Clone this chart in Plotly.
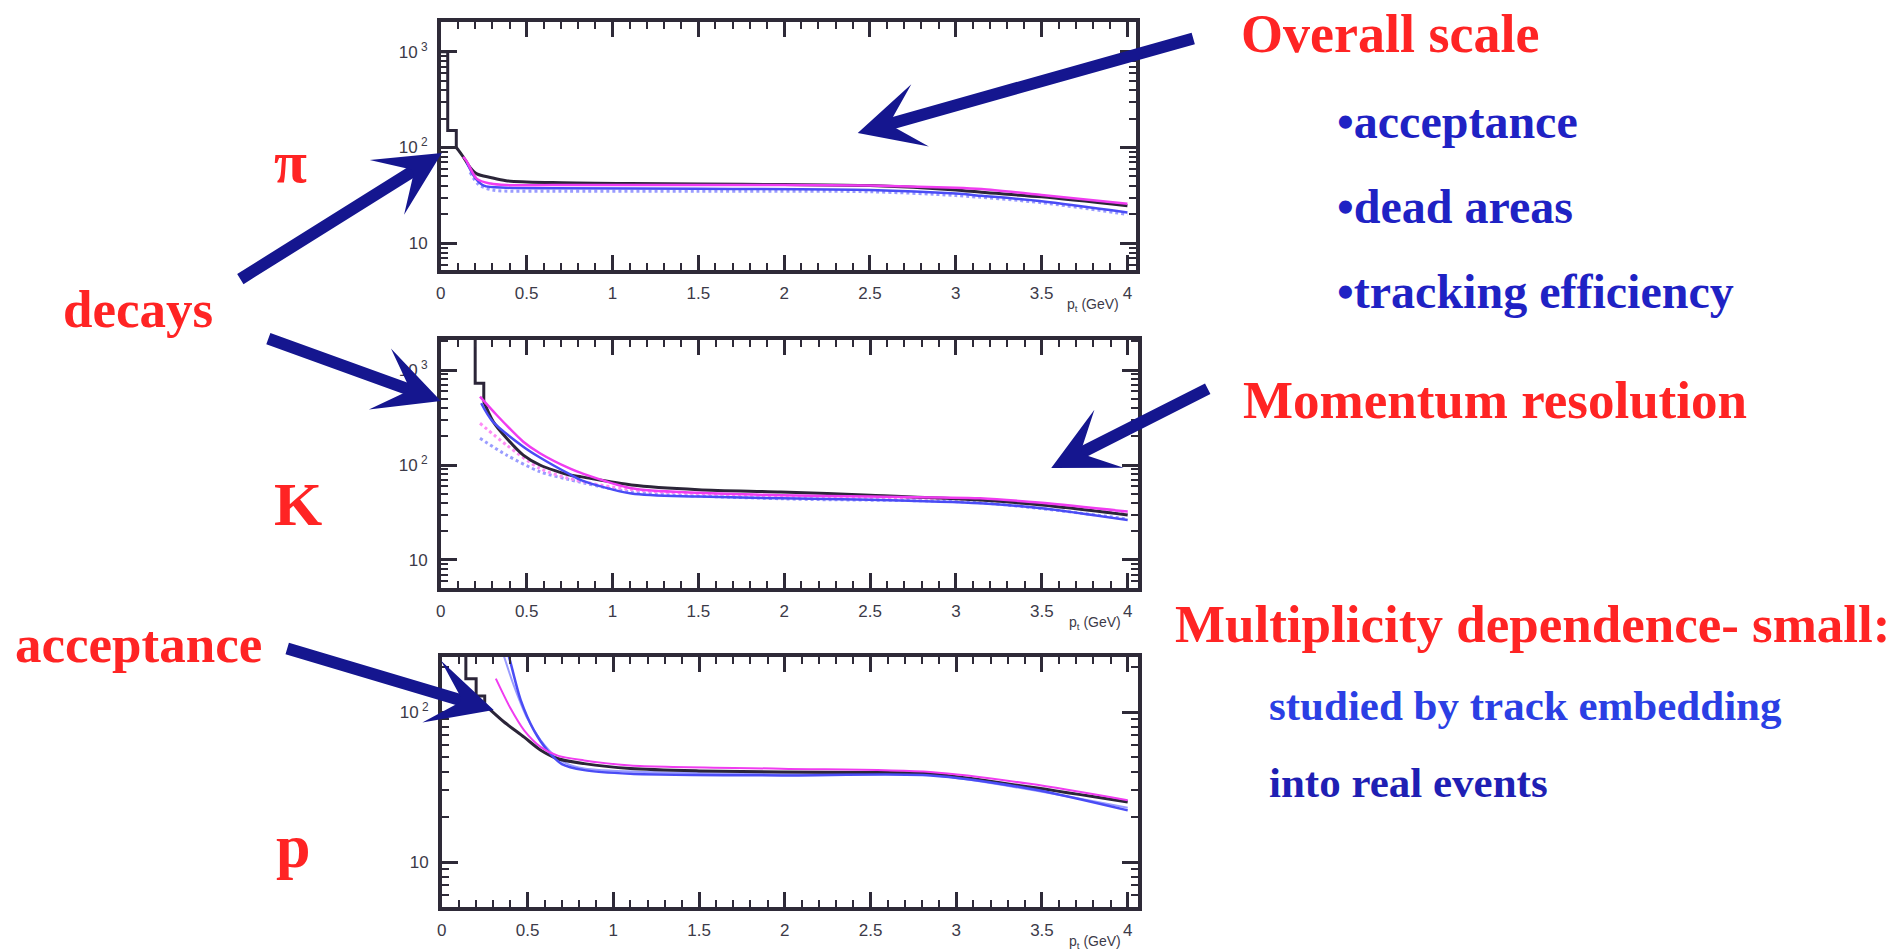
import plotly.graph_objects as go

W, H = 1893, 952

# ---------------- axis ticks ----------------
pt_ticks = [0, 0.5, 1, 1.5, 2, 2.5, 3, 3.5, 4]
pt_tick_text = ["0", "0.5", "1", "1.5", "2", "2.5", "3", "3.5", "4"]
y_major = [10, 100, 1000]
y_major_text = ["10", "10<sup> 2</sup>", "10<sup> 3</sup>"]
y_minor = [m * d for d in (1, 10, 100, 1000) for m in range(2, 10)]

# ---------------- pi panel ----------------
pi_hist_edges = [0.0, 0.04, 0.09]
pi_hist_vals = [1000, 150, 100]
pi_data_pt = [0.09, 0.10, 0.13, 0.17, 0.21, 0.29, 0.38, 0.65, 1.1, 1.5, 2.0, 2.5, 3.0, 3.15, 3.5, 4.0]
pi_data_y = [100, 95, 80, 62, 53, 48.6, 45, 43, 42, 41.5, 41, 40, 36, 34, 30.5, 24.6]
pi_sim1_pt = [0.13, 0.15, 0.21, 0.29, 0.38, 0.65, 1.1, 1.5, 2.0, 2.5, 3.0, 3.15, 3.5, 4.0]
pi_sim1_y = [80, 72, 47, 42, 40.5, 40.5, 40.5, 40.5, 40.5, 40, 38, 36.8, 32, 25.8]
pi_sim2_pt = [0.15, 0.2, 0.25, 0.38, 0.65, 1.5, 2.5, 3.0, 3.15, 3.5, 4.0]
pi_sim2_y = [70, 48, 40, 38, 37.5, 37, 36, 33, 31.3, 27.5, 21]
pi_sim3_pt = [0.17, 0.22, 0.3, 0.65, 1.5, 2.5, 3.0, 3.5, 4.0]
pi_sim3_y = [55, 41, 36, 35, 35, 34.5, 31.5, 26.5, 20]

# ---------------- K panel ----------------
k_hist_edges = [0.15, 0.20, 0.25]
k_hist_vals = [5000, 725, 464]
k_data_pt = [0.25, 0.305, 0.383, 0.48, 0.577, 0.75, 0.82, 1.11, 1.5, 1.98, 2.5, 3.14, 3.5, 4.0]
k_data_y = [464, 286, 191, 127, 100, 78.5, 75, 61.6, 55, 52, 48, 42.7, 38, 29.8]
k_sim1_pt = [0.228, 0.325, 0.48, 0.577, 0.75, 0.82, 1.11, 1.5, 1.98, 2.5, 3.14, 3.5, 4.0]
k_sim1_y = [524, 336, 176, 133, 92, 82, 57, 51, 48, 46.5, 44.6, 40, 32.3]
k_sim2_pt = [0.235, 0.3, 0.48, 0.577, 0.75, 0.82, 1.11, 1.5, 1.98, 2.5, 3.14, 3.5, 4.0]
k_sim2_y = [447, 290, 156, 120, 80, 69, 50, 46.5, 44.6, 43, 39.5, 35, 26.3]
k_sim3_pt = [0.228, 0.383, 0.577, 0.75, 1.11, 2.0, 3.14, 4.0]
k_sim3_y = [275, 162, 92, 72, 55, 47, 43, 31]
k_sim4_pt = [0.228, 0.383, 0.577, 0.75, 1.11, 2.0, 3.14, 4.0]
k_sim4_y = [191, 127, 85, 70, 52, 44, 40, 27]

# ---------------- p panel ----------------
p_hist_edges = [0.10, 0.14, 0.20, 0.25]
p_hist_vals = [400, 167, 128, 112]
p_data_pt = [0.25, 0.286, 0.363, 0.48, 0.577, 0.673, 0.83, 1.1, 1.5, 1.98, 2.5, 2.85, 3.43, 4.0]
p_data_y = [112, 102.6, 85.8, 68, 55.6, 49, 45.3, 42, 40.5, 39.8, 39.5, 38.8, 31.6, 25.1]
p_sim1_pt = [0.315, 0.402, 0.48, 0.577, 0.68, 0.83, 1.1, 1.98, 2.85, 3.43, 4.0]
p_sim1_y = [167, 105, 75.5, 58.4, 51, 47.6, 44, 41.9, 39.8, 33.2, 25.8]
p_sim2_pt = [0.38, 0.40, 0.46, 0.537, 0.615, 0.70, 0.83, 1.1, 1.98, 2.85, 3.43, 4.0]
p_sim2_y = [260, 215, 120, 75.5, 55.6, 45, 41, 38.8, 37.8, 37.8, 30.8, 22.1]
p_sim3_pt = [0.36, 0.42, 0.50, 0.60, 0.70, 0.83, 1.98, 2.85, 4.0]
p_sim3_y = [240, 150, 90, 60, 47, 42, 38.5, 38, 23]

# ---------------- styles ----------------
C_DATA = "#2b2538"
C_MAG = "#f03cf0"
C_BLUE = "#4a4cf5"
C_LAV = "#9a9cff"
C_PINK = "#ff8cf5"
C_RED = "#ff2424"
C_NAVY = "#15168f"
SERIF = "Liberation Serif, Times New Roman, serif"
SANS = "Liberation Sans, Arial, sans-serif"


def px_x(v):
    return v / W


def px_y(v):
    return 1 - v / H


panels = [
    dict(left=437, right=1134, top=22, bottom=270, yrange=[0.721, 3.31], xrange=[0, 4.05],
         hist=(pi_hist_edges, pi_hist_vals),
         curves=[(pi_data_pt, pi_data_y, C_DATA, "solid", 3),
                 (pi_sim3_pt, pi_sim3_y, C_LAV, "dot", 3),
                 (pi_sim2_pt, pi_sim2_y, C_BLUE, "solid", 2.5),
                 (pi_sim1_pt, pi_sim1_y, C_MAG, "solid", 2.5)]),
    dict(left=437, right=1136, top=340, bottom=588, yrange=[0.705, 3.316], xrange=[0, 4.06],
         hist=(k_hist_edges, k_hist_vals),
         curves=[(k_sim4_pt, k_sim4_y, C_LAV, "dot", 3),
                 (k_sim3_pt, k_sim3_y, C_PINK, "dot", 3),
                 (k_data_pt, k_data_y, C_DATA, "solid", 3),
                 (k_sim2_pt, k_sim2_y, C_BLUE, "solid", 2.5),
                 (k_sim1_pt, k_sim1_y, C_MAG, "solid", 2.5)]),
    dict(left=438, right=1136, top=657, bottom=907, yrange=[0.70, 2.367], xrange=[0, 4.06],
         hist=(p_hist_edges, p_hist_vals),
         curves=[(p_sim3_pt, p_sim3_y, C_LAV, "solid", 2),
                 (p_data_pt, p_data_y, C_DATA, "solid", 3),
                 (p_sim2_pt, p_sim2_y, C_BLUE, "solid", 2.5),
                 (p_sim1_pt, p_sim1_y, C_MAG, "solid", 2)]),
]

fig = go.Figure()
layout = dict(width=W, height=H, margin=dict(l=0, r=0, t=0, b=0),
              paper_bgcolor="white", plot_bgcolor="white", showlegend=False)
annotations = []

for i, pnl in enumerate(panels, start=1):
    xa = "x" if i == 1 else f"x{i}"
    ya = "y" if i == 1 else f"y{i}"
    edges, vals = pnl["hist"]
    fig.add_trace(go.Scatter(x=edges, y=vals, mode="lines", xaxis=xa, yaxis=ya,
                             line=dict(color=C_DATA, width=3, shape="hv"),
                             hoverinfo="skip"))
    for xs, ys, col, dash, wd in pnl["curves"]:
        fig.add_trace(go.Scatter(x=xs, y=ys, mode="lines", xaxis=xa, yaxis=ya,
                                 line=dict(color=col, width=wd, dash=dash,
                                           shape="spline", smoothing=0.8),
                                 hoverinfo="skip"))
    axis_common = dict(showline=True, linewidth=3.5, linecolor="#2e2a38", mirror="allticks",
                       ticks="inside", tickcolor="#2e2a38", tickwidth=2.5, showgrid=False,
                       zeroline=False, tickfont=dict(family=SANS, size=17, color="#3c3a48"))
    xkey = "xaxis" if i == 1 else f"xaxis{i}"
    ykey = "yaxis" if i == 1 else f"yaxis{i}"
    layout[xkey] = dict(axis_common, anchor=ya, range=pnl["xrange"],
                        domain=[px_x(pnl["left"]), px_x(pnl["right"])],
                        tickmode="array", tickvals=pt_ticks, ticktext=pt_tick_text,
                        ticklen=15, ticklabelstandoff=5,
                        minor=dict(ticks="inside", ticklen=7, tickwidth=2,
                                   tickcolor="#2e2a38", dtick=0.1, showgrid=False))
    layout[ykey] = dict(axis_common, anchor=xa, type="log", range=pnl["yrange"],
                        domain=[px_y(pnl["bottom"]), px_y(pnl["top"])],
                        tickmode="array", tickvals=y_major, ticktext=y_major_text,
                        ticklen=16, ticklabelstandoff=6,
                        minor=dict(ticks="inside", ticklen=7, tickwidth=2,
                                   tickcolor="#2e2a38", tickvals=y_minor, showgrid=False))
    annotations.append(dict(text="p<sub>t</sub> (GeV)", xref=f"{xa} domain", yref=f"{ya} domain",
                            x=1, y=0, xanchor="right", yanchor="top", yshift=-24, xshift=-15,
                            showarrow=False, font=dict(family=SANS, size=14, color="#3c3a48")))

# ---------------- slide text ----------------
texts = [
    # text, left px, baseline px, size, colour
    ("Overall scale", 1237, 52, 54, C_RED),
    ("•acceptance", 1334, 138, 48, "#1f22c4"),
    ("•dead areas", 1334, 223, 48, "#1f22c4"),
    ("•tracking efficiency", 1334, 308, 48, "#1f22c4"),
    ("Momentum resolution", 1239, 418, 53, C_RED),
    ("Multiplicity dependence- small:", 1171, 642, 53, C_RED),
    ("studied by track embedding", 1265, 720, 43, "#2b3fe4"),
    ("into real events", 1265, 797, 43, "#1f1fb4"),
    ("decays", 56, 327, 53, C_RED),
    ("acceptance", 8, 662, 53, C_RED),
    ("π", 268, 182, 60, C_RED),
    ("K", 268, 525, 62, C_RED),
    ("p", 270, 867, 62, C_RED),
]
for txt, x0, base, size, col in texts:
    annotations.append(dict(text=f"<b>{txt}</b>", xref="paper", yref="paper",
                            x=px_x(x0), y=px_y(base - 0.34 * size),
                            xanchor="left", yanchor="middle", showarrow=False,
                            font=dict(family=SERIF, size=size, color=col)))

# ---------------- arrows: (tail, tip) in px ----------------
arrows = [
    ((1192, 38), (855, 133)),
    ((235, 280), (438, 153)),
    ((263, 338), (437, 401)),
    ((1207, 388), (1049, 468)),
    ((282, 648), (490, 710)),
]
for (tx, ty), (hx, hy) in arrows:
    annotations.append(dict(text="", xref="paper", yref="paper",
                            x=px_x(hx), y=px_y(hy), ax=tx - hx, ay=ty - hy,
                            axref="pixel", ayref="pixel", showarrow=True,
                            arrowhead=3, arrowsize=0.9, arrowwidth=12,
                            arrowcolor=C_NAVY, standoff=0, startstandoff=0))

layout["annotations"] = annotations
fig.update_layout(**layout)
fig.write_html("out.html")
